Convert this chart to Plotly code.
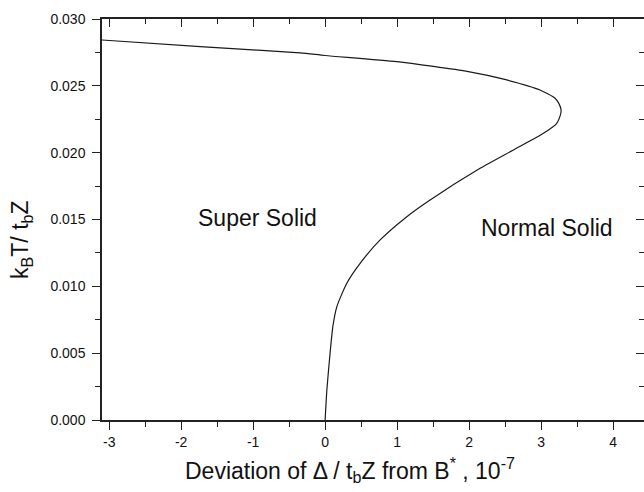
import plotly.graph_objects as go

# Phase boundary (deviation x1e-7, k_B T / t_b Z)
dev = [-3.10, -1.736, -0.347, 0.0, 0.996, 1.990, 2.524, 2.986, 3.194, 3.250, 3.278, 3.265,
       3.218, 3.032, 2.615, 2.153, 1.458, 1.135, 0.764, 0.486, 0.301, 0.163, 0.107, 0.060,
       0.024, 0.0]
temp = [0.02843, 0.02794, 0.02746, 0.02727, 0.02681, 0.02606, 0.02544, 0.02469, 0.02407,
        0.02365, 0.02319, 0.02275, 0.02220, 0.02145, 0.02020, 0.01883, 0.01646, 0.01521,
        0.01347, 0.01172, 0.01023, 0.00848, 0.00698, 0.00449, 0.00224, 0.0]

x_ticks = [-3, -2, -1, 0, 1, 2, 3, 4]
x_labels = ["-3", "-2", "-1", "0", "1", "2", "3", "4"]
y_ticks = [0.000, 0.005, 0.010, 0.015, 0.020, 0.025, 0.030]
y_labels = ["0.000", "0.005", "0.010", "0.015", "0.020", "0.025", "0.030"]

labels = ["Super Solid", "Normal Solid"]
label_x = [-0.94, 3.08]
label_y = [0.0151, 0.0144]

x_title = "Deviation of Δ / t<sub>b</sub>Z from B<sup>*</sup> , 10<sup>-7</sup>"
y_title = "k<sub>B</sub>T/ t<sub>b</sub>Z"

XR = [-3.1, 4.43]
YR = [0, 0.030]
FONT = "Liberation Sans, Arial, sans-serif"

fig = go.Figure()
fig.add_trace(go.Scatter(x=dev, y=temp, mode="lines",
                         line=dict(color="#1a1a1a", width=1.2, shape="spline", smoothing=0.6),
                         showlegend=False, hoverinfo="skip"))
fig.add_trace(go.Scatter(x=[None], y=[None], xaxis="x2", yaxis="y2", showlegend=False))

for t, xx, yy in zip(labels, label_x, label_y):
    fig.add_annotation(x=xx, y=yy, text=t, showarrow=False,
                       font=dict(family=FONT, size=23, color="#111"))

fig.add_annotation(xref="paper", yref="paper", x=0.4576, y=-0.1247, text=x_title,
                   showarrow=False, xanchor="center", yanchor="middle",
                   font=dict(family=FONT, size=23, color="#111"))
fig.add_annotation(xref="paper", yref="paper", x=-0.1476, y=0.449, text=y_title,
                   showarrow=False, xanchor="center", yanchor="middle", textangle=-90,
                   font=dict(family=FONT, size=23, color="#111"))

tickfont = dict(family=FONT, size=14, color="#111")
fig.update_layout(
    width=644, height=492,
    margin=dict(l=102, r=0, t=19, b=72, autoexpand=False),
    paper_bgcolor="white", plot_bgcolor="white",
    xaxis=dict(range=XR, tickvals=x_ticks, ticktext=x_labels, ticks="outside", ticklen=8,
               tickwidth=1.2, automargin=False,
               tickcolor="#222", showline=True, linecolor="#222", linewidth=1.5,
               showgrid=False, zeroline=False, tickfont=tickfont,
               minor=dict(dtick=0.5, ticks="outside", ticklen=5, tickcolor="#222", showgrid=False)),
    yaxis=dict(range=YR, tickvals=y_ticks, ticktext=y_labels, ticks="outside", ticklen=8,
               tickwidth=1.2, tickcolor="#222", showline=True, linecolor="#222", linewidth=1.5,
               showgrid=False, zeroline=False, tickfont=tickfont, ticklabelstandoff=4,
               automargin=False,
               minor=dict(dtick=0.0025, ticks="outside", ticklen=5, tickcolor="#222", showgrid=False)),
    xaxis2=dict(range=XR, overlaying="x", side="top", anchor="y", tickvals=x_ticks,
                ticks="inside", ticklen=8, tickwidth=1.2, tickcolor="#222", showline=True,
                linecolor="#222", linewidth=1.5, showticklabels=False, showgrid=False,
                zeroline=False, automargin=False,
                minor=dict(dtick=0.5, ticks="inside", ticklen=5, tickcolor="#222", showgrid=False)),
    yaxis2=dict(range=YR, overlaying="y", side="right", anchor="x", tickvals=y_ticks,
                ticks="inside", ticklen=8, tickwidth=1.2, tickcolor="#222", showline=False,
                showticklabels=False, showgrid=False, zeroline=False, automargin=False,
                minor=dict(dtick=0.0025, ticks="inside", ticklen=5, tickcolor="#222", showgrid=False)),
)

fig.write_html("out.html", config={"displayModeBar": False},
               post_script="document.body.style.margin='0';document.body.style.overflow='hidden';")
